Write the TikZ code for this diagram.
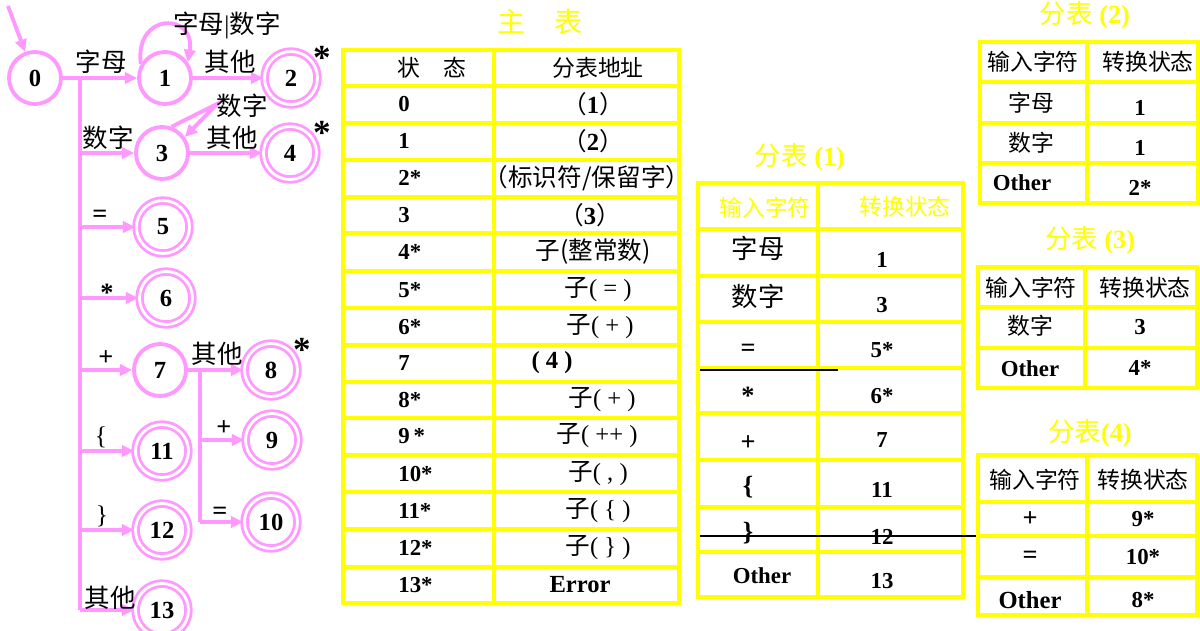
\documentclass[tikz,border=0pt]{standalone}
\usepackage{fontspec}
\setmainfont{Liberation Serif}
\newfontfamily\cjkfont{Noto Sans CJK SC}
\usepackage{xcolor}
\usepackage{tikz}
\usetikzlibrary{arrows.meta}
\definecolor{fsmpink}{RGB}{255,153,255}
\definecolor{tblyellow}{RGB}{255,255,0}
\newcommand{\zh}[1]{{\cjkfont\mdseries #1}}
\tikzset{
  st/.style={circle, draw=fsmpink, line width=2.2pt, minimum size=1.04cm,
    inner sep=0pt, font=\fontsize{14}{16}\selectfont\bfseries},
  accst/.style={st, double=white, double distance=1.6pt, line width=1.6pt,
    minimum size=1.06cm},
  pl/.style={draw=fsmpink, line width=2.2pt},
  pa/.style={pl, -{Triangle[length=7pt, width=6.5pt]}},
  lbl/.style={inner sep=1pt, font=\fontsize{14.5}{16}\selectfont},
  lblb/.style={lbl, font=\fontsize{15}{16}\selectfont\bfseries},
  star/.style={inner sep=0pt, font=\fontsize{20}{20}\selectfont\bfseries},
  tl/.style={draw=tblyellow, line width=2.3pt},
  cell/.style={inner sep=0pt, font=\fontsize{13}{15}\selectfont},
  cellb/.style={cell, font=\fontsize{13}{15}\selectfont\bfseries},
  sym/.style={cell, font=\fontsize{15}{16}\selectfont\bfseries},
  hdr/.style={cell, text=tblyellow},
  ttl/.style={inner sep=0pt, text=tblyellow, font=\fontsize{15}{17}\selectfont\bfseries},
}

\begin{document}
\begin{tikzpicture}[x=0.02cm, y=-0.02cm]
\useasboundingbox (0,0) rectangle (1200,630);
\fill[white] (0,0) rectangle (1200,630);

% automaton
\node[st] (s0) at (35,78) {0};
\node[st] (s1) at (165,78) {1};
\node[accst] (s2) at (291,78) {2};
\node[st] (s3) at (162,153) {3};
\node[accst] (s4) at (290,153) {4};
\node[accst] (s5) at (163,227) {5};
\node[accst] (s6) at (166,298) {6};
\node[st] (s7) at (160,370) {7};
\node[accst] (s8) at (271,370) {8};
\node[accst] (s9) at (272,440) {9};
\node[accst] (s10) at (271,522) {10};
\node[accst] (s11) at (162,451) {11};
\node[accst] (s12) at (162,530) {12};
\node[accst] (s13) at (162,610) {13};

\coordinate (start) at (8,6);
\coordinate (trunk) at (80,78);
\coordinate (fork) at (200,370);
\coordinate (loop3) at (217,104);

\draw[pa] (start) -- (s0);
\draw[pa] (s0) -- (s1);
\draw[pl] (trunk) -- (trunk |- s13);
\foreach \n in {s3,s5,s6,s7,s11,s12,s13}
  \draw[pa] (trunk |- \n) -- (\n);
\draw[pa] (s1.150) .. controls (134,12) and (196,12) .. (s1.35);
\draw[pa] (s1) -- (s2);
\draw[pa] (s3.70) -- (loop3) -- (s3.35);
\draw[pa] (s3) -- (s4);
\draw[pa] (s7) -- (s8);
\draw[pl] (fork) -- (fork |- s10);
\draw[pa] (fork |- s9) -- (s9);
\draw[pa] (fork |- s10) -- (s10);

\node[lbl] (l01) at (101,62) {\zh{字母}};
\node[lbl] (l03) at (108,138) {\zh{数字}};
\node[lblb] (l05) at (100,216) {=};
\node[lblb] (l06) at (107,293) {*};
\node[lblb] (l07) at (106,358) {+};
\node[lbl] (l011) at (101,437) {\{};
\node[lbl] (l012) at (102,516) {\}};
\node[lbl] (l013) at (110,598) {\zh{其他}};
\node[lbl] (l11) at (227,25) {\zh{字母}|\zh{数字}};
\node[lbl] (l12) at (230,62) {\zh{其他}};
\node[lbl] (l33) at (242,106) {\zh{数字}};
\node[lbl] (l34) at (232,138) {\zh{其他}};
\node[lbl] (l78) at (217,354) {\zh{其他}};
\node[lblb] (l79) at (224,428) {+};
\node[lblb] (l710) at (220,513) {=};
\node[star] (st2) at (322,58) {*};
\node[star] (st4) at (322,133) {*};
\node[star] (st8) at (302,350) {*};

% main table
\node[ttl, font=\fontsize{16}{18}\selectfont] (tmain) at (540,22) {\zh{主\quad 表}};
\draw[tl] (343,50) rectangle (679,603);
\draw[tl] (494,50) -- (494,603);
\foreach \y in {86,123,160,197,233,271,308,345,382,418,455,492,529,567}
  \draw[tl] (343,\y) -- (679,\y);
\node[cell] (mh1) at (432,68) {\zh{状\quad 态}};
\node[cell] (mh2) at (598,68) {\zh{分表地址}};
\foreach \y/\a/\xb/\b [count=\i] in {
  104/0/593/{\zh{（}\textbf{1}\zh{）}},
  141/1/593/{\zh{（}\textbf{2}\zh{）}},
  178/2*/587/{\zh{（标识符/保留字）}},
  215/3/590/{\zh{（}\textbf{3}\zh{）}},
  252/4*/593/{\zh{子(整常数)}},
  290/5*/598/{\zh{子}( = )},
  327/6*/600/{\zh{子}( + )},
  363/7/552/{\textbf{( 4 )}},
  400/8*/602/{\zh{子}( + )},
  436/9\,*/597/{\zh{子}( ++ )},
  474/10*/598/{\zh{子}( , )},
  511/11*/598/{\zh{子}( \{ )},
  548/12*/598/{\zh{子}( \} )},
  585/13*/580/{\textbf{Error}}}
{
  \node[cellb, anchor=west] (ma\i) at (398,\y) {\a};
  \node[cell, font=\fontsize{14}{15}\selectfont] (mb\i) at (\xb,\y) {\b};
}

% sub table 1
\node[ttl] (t1) at (800,157) {\zh{分表} (1)};
\draw[tl] (698,183) rectangle (963,597);
\draw[tl] (818,183) -- (818,597);
\foreach \y in {229,276,322,368,413,460,507,552}
  \draw[tl] (698,\y) -- (963,\y);
\node[hdr] (h1a) at (765,208) {\zh{输入字符}};
\node[hdr] (h1b) at (905,207) {\zh{转换状态}};
\foreach \xa/\ya/\a/\yb/\b [count=\i] in {
  758/248/{\zh{字母}}/260/1,
  758/296/{\zh{数字}}/305/3,
  748/350/=/350/5*,
  748/396/*/396/6*,
  748/443/+/440/7,
  748/487/\{/490/11,
  748/533/\}/537/12,
  762/576/{\fontsize{13}{15}\selectfont Other}/581/13}
{
  \node[sym] (in\i) at (\xa,\ya) {\a};
  \node[cellb] (out\i) at (882,\yb) {\b};
}
\draw[black, line width=0.6pt] (700,370) -- (838,370);
\draw[black, line width=0.6pt] (700,536) -- (978,536);

% sub table 2
\node[ttl] (t2) at (1085,15) {\zh{分表} (2)};
\draw[tl] (980,42) rectangle (1198,203);
\draw[tl] (1087,42) -- (1087,203);
\foreach \y in {82,123,163}
  \draw[tl] (980,\y) -- (1198,\y);
\node[cell] (h2a) at (1033,62) {\zh{输入字符}};
\node[cell] (h2b) at (1148,62) {\zh{转换状态}};
\foreach \xa/\ya/\a/\yb/\b [count=\i] in {
  1031/103/{\zh{字母}}/108/1,
  1031/143/{\zh{数字}}/148/1,
  1022/183/{\textbf{Other}}/188/2*}
{
  \node[cell] (in2\i) at (\xa,\ya) {\a};
  \node[cellb] (out2\i) at (1140,\yb) {\b};
}

% sub table 3
\node[ttl] (t3) at (1090,240) {\zh{分表} (3)};
\draw[tl] (978,267) rectangle (1197,388);
\draw[tl] (1085,267) -- (1085,388);
\foreach \y in {307,348}
  \draw[tl] (978,\y) -- (1197,\y);
\node[cell] (h3a) at (1031,288) {\zh{输入字符}};
\node[cell] (h3b) at (1145,288) {\zh{转换状态}};
\node[cell] (in31) at (1030,326) {\zh{数字}};
\node[cellb] (out31) at (1140,327) {3};
\node[cellb] (in32) at (1030,369) {Other};
\node[cellb] (out32) at (1140,368) {4*};

% sub table 4
\node[ttl] (t4) at (1090,433) {\zh{分表}(4)};
\draw[tl] (978,455) rectangle (1197,615);
\draw[tl] (1087,455) -- (1087,615);
\foreach \y in {502,536,577}
  \draw[tl] (978,\y) -- (1197,\y);
\node[cell] (h4a) at (1035,480) {\zh{输入字符}};
\node[cell] (h4b) at (1143,480) {\zh{转换状态}};
\foreach \a/\y/\b [count=\i] in {+/519/9*, =/557/10*, {\fontsize{14}{15}\selectfont Other}/600/8*}
{
  \node[sym] (in4\i) at (1030,\y) {\a};
  \node[cellb] (out4\i) at (1143,\y) {\b};
}
\end{tikzpicture}
\end{document}
